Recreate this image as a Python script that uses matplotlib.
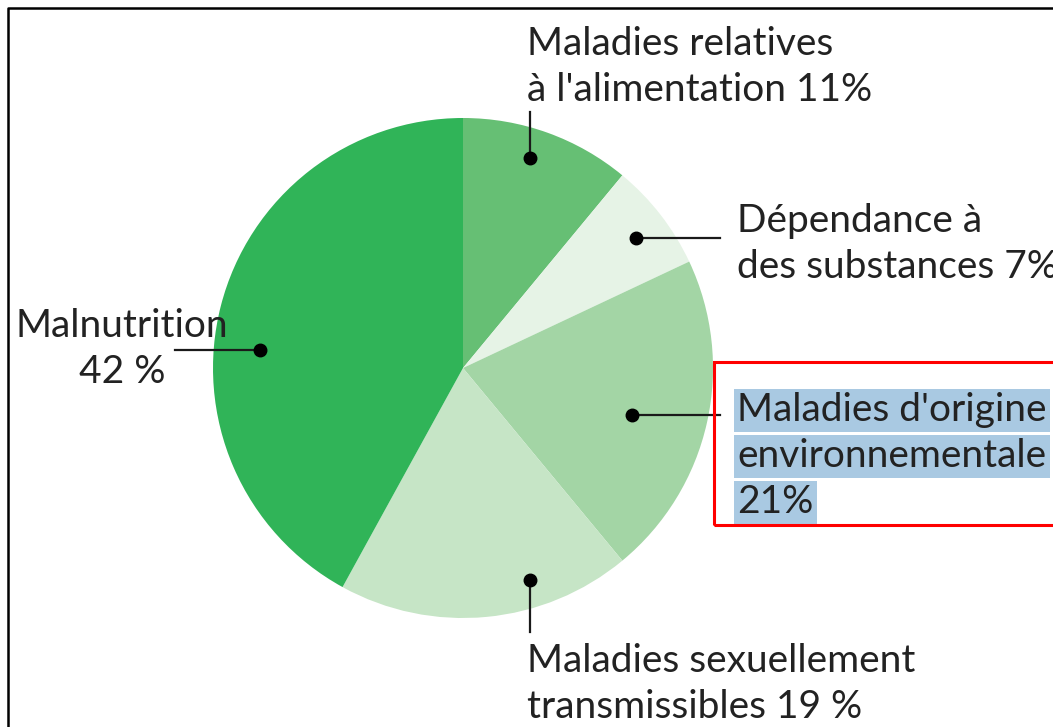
import matplotlib.pyplot as plt
from matplotlib.patches import Rectangle
import numpy as np

# data, clockwise from 12 o'clock
labels = ["Maladies relatives\nà l'alimentation 11%",
          "Dépendance à\ndes substances 7%",
          "Maladies d'origine\nenvironnementale\n21%",
          "Maladies sexuellement\ntransmissibles 19 %",
          "Malnutrition\n42 %"]
shares = [11, 7, 21, 19, 42]
colors = ['#66bf74', '#e6f3e6', '#a3d5a5', '#c6e5c6', '#30b458']

W, H = 1053, 727
cx, cy, R = 463, H - 368, 250

# (dot angle deg, dot radius frac, line end x, line end y, text x, first baseline y, align)
layout = [
    (72.3, 0.88, None, 112, 527, 55, 'left'),
    (36.9, 0.865, 720, None, 737, 232, 'left'),
    (-15.6, 0.70, 720, None, 737, 421, 'left'),
    (-72.5, 0.89, None, 632, 527, 672, 'left'),
    (175.0, 0.815, 175, None, 122, 337, 'center'),
]

plt.rcParams['font.family'] = ['Lato', 'DejaVu Sans']
fig = plt.figure(figsize=(W / 100, H / 100), dpi=100, facecolor='white')
ax = fig.add_axes([0, 0, 1, 1])

ax.pie(shares, colors=colors, startangle=90, counterclock=False,
       center=(cx, cy), radius=R, wedgeprops=dict(linewidth=0))
ax.set_xlim(0, W)
ax.set_ylim(0, H)
ax.set_aspect('auto')
ax.axis('off')

for lab, (ang, rf, lx, ly, tx, base, ha) in zip(labels, layout):
    a = np.radians(ang)
    px, py = cx + rf * R * np.cos(a), cy + rf * R * np.sin(a)
    if lx is not None:
        ax.plot([px, lx], [py, py], color='#1a1a1a', lw=1.6, zorder=4)
    else:
        ax.plot([px, px], [py, H - ly], color='#1a1a1a', lw=1.6, zorder=4)
    ax.plot(px, py, 'o', color='black', ms=9, zorder=5)
    highlight = lab.startswith("Maladies d'origine")
    for i, line in enumerate(lab.split('\n')):
        kw = {}
        if highlight:
            kw['bbox'] = dict(facecolor='#a9c9e2', edgecolor='none', pad=2.5)
        ax.text(tx, H - base - 46 * i, line, ha=ha, va='baseline',
                fontsize=28, color='#222222', **kw)

# red frame round the highlighted label
ax.add_patch(Rectangle((714, H - 525), 400, 163, fill=False,
                       edgecolor='red', lw=2.2, zorder=6))
# black frame of the picture
ax.plot([8, 8, W + 10], [-10, H - 8, H - 8], color='black', lw=1.8, zorder=7)

plt.savefig('out.png', dpi=100)
